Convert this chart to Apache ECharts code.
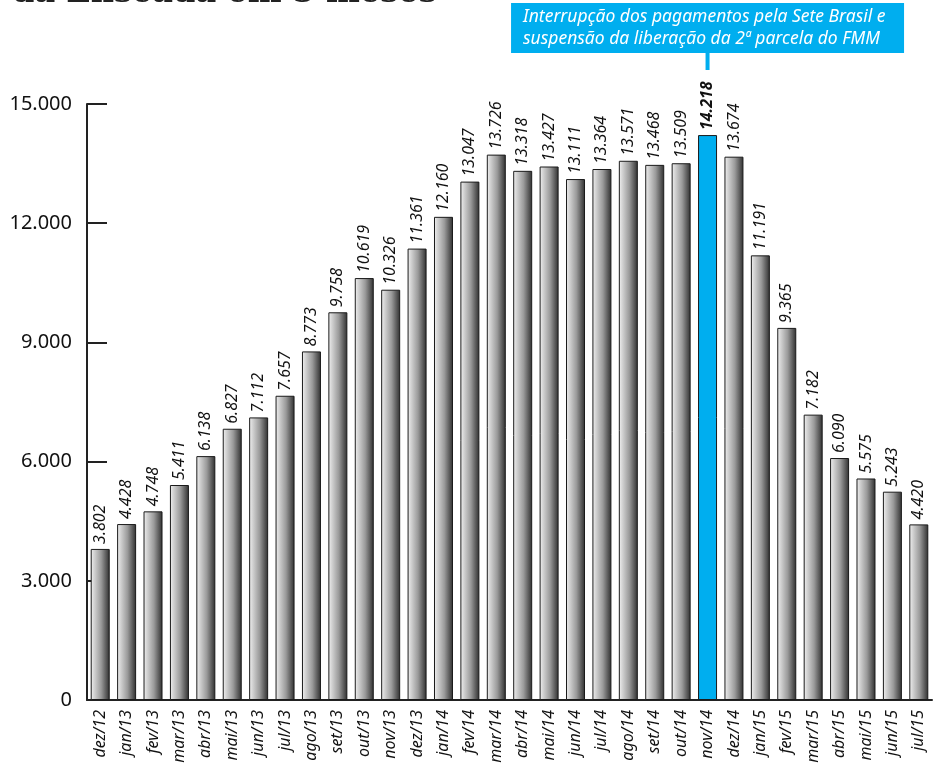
<!DOCTYPE html>
<html>
<head>
<meta charset="utf-8">
<script src="https://cdn.jsdelivr.net/npm/echarts@6/dist/echarts.min.js"></script>
<style>
html,body{margin:0;padding:0;background:#fff;}
#c{width:939px;height:767px;}
</style>
</head>
<body>
<div id="c"></div>
<script>
var categories = ['dez/12','jan/13','fev/13','mar/13','abr/13','mai/13','jun/13','jul/13','ago/13','set/13','out/13','nov/13','dez/13','jan/14','fev/14','mar/14','abr/14','mai/14','jun/14','jul/14','ago/14','set/14','out/14','nov/14','dez/14','jan/15','fev/15','mar/15','abr/15','mai/15','jun/15','jul/15'];
var values = [3802,4428,4748,5411,6138,6827,7112,7657,8773,9758,10619,10326,11361,12160,13047,13726,13318,13427,13111,13364,13571,13468,13509,14218,13674,11191,9365,7182,6090,5575,5243,4420];
var highlightCategory = 'nov/14';
var yTicks = [0,3000,6000,9000,12000,15000];
var titleText = 'da Enseada em 5 meses';
var noteLines = ['Interrupção dos pagamentos pela Sete Brasil e','suspensão da liberação da 2ª parcela do FMM'];

function fmt(v){ return String(v).replace(/\B(?=(\d{3})+(?!\d))/g,'.'); }

var grayGrad = new echarts.graphic.LinearGradient(0,0,1,0,[
  {offset:0,color:'#f4f4f4'},
  {offset:0.15,color:'#d8d8d8'},
  {offset:0.55,color:'#9a9a9a'},
  {offset:1,color:'#2e2e2e'}
]);
var blue = '#00aeef';

var data = values.map(function(v,i){
  var hl = categories[i] === highlightCategory;
  return {
    value: v,
    itemStyle: {color: hl ? blue : grayGrad, borderColor:'#1a1a1a', borderWidth:1},
    label: hl ? {fontWeight:'bold', fontStyle:'italic'} : undefined
  };
});

var chart = echarts.init(document.getElementById('c'));
chart.setOption({
  animation:false,
  grid:{left:87,right:7,top:104,bottom:67,containLabel:false},
  xAxis:{
    type:'category',
    data:categories,
    boundaryGap:true,
    axisLine:{lineStyle:{color:'#222',width:2}},
    axisTick:{inside:true,length:14,lineStyle:{color:'#222',width:2}},
    axisLabel:{rotate:90,margin:10,fontFamily:'Noto Sans',fontStyle:'italic',fontSize:16,color:'#111',interval:0}
  },
  yAxis:{
    type:'value',
    min:yTicks[0],max:yTicks[yTicks.length-1],interval:yTicks[1]-yTicks[0],
    splitLine:{show:false},
    axisLine:{show:true,lineStyle:{color:'#222',width:2}},
    axisTick:{show:true,inside:true,length:20,lineStyle:{color:'#222',width:2}},
    axisLabel:{margin:15,fontFamily:'Noto Sans',fontSize:20,color:'#111',formatter:function(v){return fmt(v);}}
  },
  series:[{
    type:'bar',
    data:data,
    barWidth:19,
    label:{
      show:true,position:'top',rotate:90,align:'left',verticalAlign:'middle',distance:5,
      fontFamily:'Noto Sans',fontStyle:'italic',fontSize:16,color:'#111',
      formatter:function(p){return fmt(p.value);}
    }
  }]
});

var cx = chart.convertToPixel({xAxisIndex:0}, highlightCategory);
var boxW = 393, boxH = 50;
chart.setOption({
  graphic:[
    {type:'text',left:12,top:-22,style:{text:titleText,font:'900 32px "DejaVu Serif"',fill:'#222'}},
    {type:'rect',shape:{x:cx-boxW/2,y:3,width:boxW,height:boxH},style:{fill:blue}},
    {type:'rect',shape:{x:cx-2,y:3+boxH,width:4,height:17},style:{fill:blue}},
    {type:'text',x:cx-boxW/2+12,y:6,style:{text:noteLines.join('\n'),font:'italic 17.5px "Noto Sans"',fill:'#fff',lineHeight:22}}
  ]
});
</script>
</body>
</html>
